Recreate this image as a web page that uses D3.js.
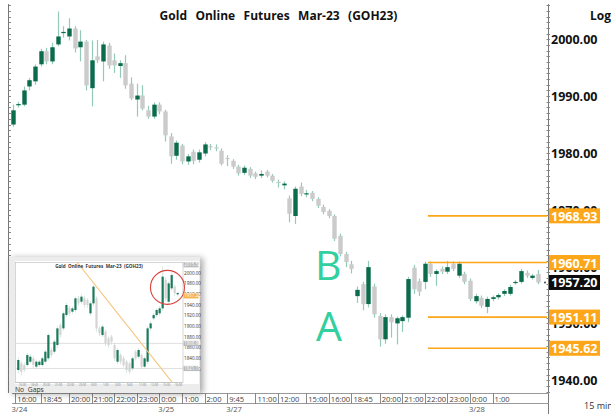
<!DOCTYPE html>
<html><head><meta charset="utf-8">
<script src="https://cdn.jsdelivr.net/npm/d3@7"></script>
<style>
html,body{margin:0;padding:0;background:#fff;overflow:hidden}
svg{display:block;font-family:"Open Sans",sans-serif}
</style>
</head><body>
<svg id="c" width="611" height="414"></svg>
<script>
// ---------- main chart data (15 min candles) ----------
const opens  = [1985.0,1988.4,1988.5,1991.7,1992.6,1995.6,1997.9,1996.1,1999.1,2001.1,2000.5,2001.9,1998.6,1999.6,1991.4,1997.0,1996.1,1998.9,1996.3,1995.3,1995.8,1992.2,1989.4,1990.1,1987.5,1986.4,1988.5,1987.3,1982.9,1979.5,1981.3,1978.5,1980.2,1978.8,1979.9,1981.2,1981.0,1980.4,1979.1,1978.6,1977.6,1976.5,1977.2,1976.4,1976.0,1976.7,1976.0,1974.9,1974.3,1972.0,1968.9,1974.1,1972.7,1973.0,1971.9,1970.5,1969.8,1968.9,1965.4,1962.2,1960.4,1954.8,1956.9,1953.4,1956.5,1951.3,1947.2,1951.1,1950.0,1950.4,1951.0,1959.8,1957.4,1957.3,1960.5,1958.7,1959.6,1959.1,1960.5,1958.4,1958.7,1957.5,1953.9,1954.5,1952.9,1954.3,1954.6,1955.2,1955.2,1957.1,1957.3,1958.9,1958.0,1958.7];
const highs  = [1988.5,1989.0,1991.7,1993.2,1995.6,1998.3,1998.5,1999.4,2004.9,2002.3,2003.7,2002.3,2001.6,1999.9,1999.8,1999.9,1999.6,1999.4,1997.5,1996.3,1997.2,1993.3,1992.2,1991.9,1988.3,1988.9,1988.9,1987.6,1983.5,1982.2,1981.6,1979.8,1980.6,1980.6,1981.9,1981.6,1981.5,1980.8,1979.6,1978.9,1977.9,1977.8,1977.5,1976.7,1976.9,1977.0,1976.3,1975.3,1975.0,1972.5,1974.1,1974.8,1973.5,1973.3,1972.2,1970.9,1970.1,1969.2,1965.8,1962.6,1961.0,1956.5,1957.3,1961.0,1957.0,1951.8,1951.6,1951.6,1951.2,1951.4,1958.2,1960.3,1957.9,1960.9,1960.9,1959.5,1960.0,1961.0,1960.9,1960.9,1959.1,1957.9,1955.2,1954.9,1954.7,1954.9,1955.3,1956.0,1956.8,1957.6,1959.6,1959.3,1958.7,1959.4];
const lows   = [1984.6,1988.0,1988.2,1991.0,1992.0,1995.2,1995.6,1995.6,1998.8,2000.3,1999.8,1997.7,1996.1,1991.0,1988.2,1995.8,1992.6,1994.8,1994.1,1993.2,1991.3,1989.3,1986.4,1987.5,1986.0,1986.0,1986.8,1982.0,1978.1,1978.8,1978.0,1977.9,1978.0,1978.3,1979.4,1980.5,1980.3,1977.8,1977.7,1977.2,1976.0,1976.1,1975.6,1975.4,1975.6,1975.7,1974.8,1973.9,1973.6,1967.8,1967.5,1972.4,1972.2,1971.5,1970.3,1969.2,1968.5,1964.5,1961.8,1959.9,1958.8,1953.6,1952.3,1952.8,1951.0,1945.9,1946.4,1947.5,1946.3,1948.5,1950.2,1955.2,1954.8,1956.0,1958.2,1956.6,1958.7,1958.7,1959.2,1958.0,1956.9,1953.9,1953.5,1952.7,1951.8,1953.9,1954.2,1954.8,1954.9,1956.8,1957.0,1958.0,1957.7,1956.9];
const closes = [1987.5,1988.6,1991.0,1992.8,1995.2,1997.9,1996.1,1998.6,2000.5,2001.3,2001.9,1998.4,1999.6,1991.9,1996.3,1996.3,1999.1,1995.4,1995.4,1995.8,1991.9,1989.6,1990.1,1987.8,1986.4,1988.5,1987.3,1983.1,1979.4,1981.8,1978.5,1979.4,1978.6,1980.1,1981.5,1981.0,1980.8,1978.1,1978.9,1977.6,1976.4,1977.4,1976.0,1975.8,1976.3,1976.0,1975.1,1974.7,1974.6,1969.3,1973.7,1972.8,1972.9,1971.9,1970.7,1969.6,1968.9,1964.9,1962.2,1960.8,1959.6,1955.9,1953.4,1959.9,1951.6,1947.2,1951.1,1950.2,1950.9,1951.1,1957.8,1956.0,1955.6,1960.5,1958.7,1959.2,1959.1,1959.9,1959.6,1960.5,1957.3,1954.3,1954.8,1953.1,1954.3,1954.6,1955.0,1955.7,1956.4,1957.3,1959.2,1958.4,1958.4,1957.2];

const priceTicks = [2000, 1990, 1980, 1970, 1960, 1950, 1940];
const levels = [1968.93, 1960.71, 1951.11, 1945.62];
const lastPrice = 1957.20;
const timeLabels = ["16:00","18:45","20:00","21:00","22:00","23:00","0:00","1:00","2:00","9:45","11:00","12:00","15:00","16:00","18:45","20:00","21:00","22:00","23:00","0:00","1:00"];
const timeIdx    = [0.5,5,10,14,18,22,26,30,34,38,43,47,52,56,60,65,69,73,77,81,85];
const dateLabels = ["3/24","3/25","3/27","3/28"];
const dateIdx    = [0,26,38,81];
const title = "Gold  Online  Futures  Mar-23  (GOH23)";

// ---------- inset (hourly) data ----------
const inOpens  = [1818.1,1830.6,1827.5,1827.5,1833.7,1840.0,1824.4,1827.5,1827.5,1833.7,1840.0,1855.6,1852.5,1865.0,1902.5,1896.2,1921.2,1933.7,1927.5,1930.6,1952.5,1946.2,1952.5,1949.4,1924.4,1943.1,1952.5,1896.2,1883.7,1890.0,1877.5,1880.6,1865.0,1833.7,1846.2,1840.0,1833.7,1830.6,1821.2,1852.5,1843.1,1846.2,1824.4,1833.7,1896.2,1915.0,1921.2,1924.4,1933.7,1986.9,1946.2,1971.2,1974.4,1960.0];
const inCloses = [1836.9,1815.0,1818.1,1846.2,1843.1,1827.5,1833.7,1833.7,1840.0,1852.5,1883.7,1846.2,1871.2,1896.2,1883.7,1924.4,1940.0,1924.4,1933.7,1952.5,1943.1,1955.6,1940.0,1940.0,1943.1,1974.4,1896.2,1886.9,1899.4,1868.1,1865.0,1871.2,1840.0,1855.6,1833.7,1827.5,1818.1,1815.0,1840.0,1840.0,1855.6,1824.4,1840.0,1896.2,1905.6,1921.2,1930.6,1933.7,1993.1,1952.5,1980.6,1996.2,1961.9,1962.5];
const inHighs  = [1842,1835,1832,1850,1848,1845,1838,1837,1843,1856,1887,1860,1875,1900,1906,1928,1944,1938,1937,1956,1957,1960,1957,1953,1947,1977,1956,1900,1903,1894,1881,1884,1869,1859,1850,1844,1837,1834,1844,1856,1859,1850,1844,1900,1910,1925,1934,1938,2012,1992,1985,2001,1978,1965];
const inLows   = [1812,1808,1814,1824,1830,1822,1820,1824,1824,1830,1836,1842,1848,1860,1879,1892,1917,1920,1923,1926,1939,1942,1935,1935,1920,1938,1890,1882,1880,1863,1860,1866,1835,1829,1829,1823,1813,1811,1817,1836,1839,1820,1820,1829,1892,1911,1917,1920,1929,1947,1942,1967,1957,1956];
const inTicks = [2000,1980,1960,1940,1920,1900,1880,1860,1840,1820];
const inLines = [1868, 1821];
const inTrend = [[19.5, 2020.6],[51.1, 1795.6]];
const inTimeLabels = ["16:00","18:45","20:00","21:00","22:00","23:00","0:00","1:00","2:00","9:45","11:00","12:00","15:00","16:00"];

// ---------- colours ----------
const GREEN = "#0b6b4d", GRAY = "#cbcbcb", WICK = "#93cbb7", ORANGE = "#fda619";
const nb = s => s.replace(/ /g, "\u00a0");

const svg = d3.select("#c");
const x = d3.scaleLinear().domain([0, opens.length - 1]).range([12.5, 537.8]);
const y = d3.scaleLinear().domain([1940, 2000]).range([380.2, 39.3]);
const bodyW = 4.4;

// left & right axis lines with minor ticks
const minor = d3.range(1935, 2009, 1);
svg.append("line").attr("x1", 8.5).attr("x2", 8.5).attr("y1", 4).attr("y2", 393).attr("stroke", "#777");
svg.append("g").selectAll("line").data(minor.filter(v => y(v) > 4 && y(v) < 392)).join("line")
  .attr("x1", 8.5).attr("x2", 11).attr("y1", d => Math.round(y(d)) + .5).attr("y2", d => Math.round(y(d)) + .5)
  .attr("stroke", "#888");
svg.append("line").attr("x1", 548.5).attr("x2", 548.5).attr("y1", 4).attr("y2", 414).attr("stroke", "#777");
svg.append("g").selectAll("line").data(minor.filter(v => y(v) > 4 && y(v) < 392)).join("line")
  .attr("x1", 546.5).attr("x2", 550).attr("y1", d => Math.round(y(d)) + .5).attr("y2", d => Math.round(y(d)) + .5)
  .attr("stroke", "#888");

// title & corner labels
svg.append("text").attr("x", 278.5).attr("y", 20).attr("text-anchor", "middle")
  .attr("font-size", 12).attr("font-weight", 700).attr("word-spacing", 1.1).attr("fill", "#111").text(nb(title));
svg.append("text").attr("x", 590).attr("y", 20).attr("font-size", 12).attr("font-weight", 700).attr("fill", "#111").text("Log");
svg.append("text").attr("x", 584).attr("y", 409).attr("font-size", 9).attr("fill", "#333").text("15 min");

// price tick labels
svg.append("g").selectAll("text").data(priceTicks).join("text")
  .attr("x", 551).attr("y", d => y(d) + 5).attr("font-size", 12.5).attr("font-weight", 700).attr("fill", "#111")
  .text(d => d.toFixed(2));

// candles
const idx = d3.range(opens.length);
svg.append("g").selectAll("line").data(idx).join("line")
  .attr("x1", i => Math.round(x(i)) + .5).attr("x2", i => Math.round(x(i)) + .5)
  .attr("y1", i => y(highs[i])).attr("y2", i => y(lows[i]))
  .attr("stroke", WICK).attr("stroke-width", 1.2);
svg.append("g").selectAll("rect").data(idx).join("rect")
  .attr("x", i => Math.round(x(i)) + .5 - bodyW / 2)
  .attr("y", i => y(Math.max(opens[i], closes[i])))
  .attr("width", bodyW)
  .attr("height", i => Math.max(1.2, Math.abs(y(opens[i]) - y(closes[i]))))
  .attr("fill", i => closes[i] >= opens[i] ? GREEN : GRAY);

// level lines + labels
svg.append("g").selectAll("line").data(levels).join("line")
  .attr("x1", 428).attr("x2", 547).attr("y1", d => y(d)).attr("y2", d => y(d))
  .attr("stroke", ORANGE).attr("stroke-width", 1.6);
const lv = svg.append("g").selectAll("g").data(levels).join("g").attr("transform", d => `translate(549,${y(d)})`);
lv.append("rect").attr("x", 0).attr("y", -7.5).attr("width", 51).attr("height", 15).attr("fill", ORANGE);
lv.append("text").attr("x", 2).attr("y", 5).attr("font-size", 12.5).attr("font-weight", 700).attr("fill", "#fff").text(d => d.toFixed(2));

// last price
const lp = svg.append("g").attr("transform", `translate(549,${y(lastPrice)})`);
lp.append("rect").attr("x", 0).attr("y", -7.5).attr("width", 51).attr("height", 15).attr("fill", "#0d0d0d");
lp.append("text").attr("x", 2).attr("y", 5).attr("font-size", 12.5).attr("font-weight", 700).attr("fill", "#fff").text(lastPrice.toFixed(2));
svg.append("circle").attr("cx", 545).attr("cy", y(lastPrice)).attr("r", 1).attr("fill", "#444");

// A / B annotations
svg.append("text").attr("x", 315).attr("y", 280).attr("font-size", 41).attr("fill", "#33cf9e").text("B");
svg.append("text").attr("x", 316).attr("y", 341).attr("font-size", 41).attr("fill", "#33cf9e").text("A");

// time axis row
const ax = svg.append("g");
ax.append("line").attr("x1", 12).attr("x2", 549).attr("y1", 393.5).attr("y2", 393.5).attr("stroke", "#999");
ax.append("line").attr("x1", 12).attr("x2", 549).attr("y1", 403.5).attr("y2", 403.5).attr("stroke", "#999");
ax.selectAll("line.d").data(timeIdx).join("line").attr("class", "d")
  .attr("x1", d => Math.round(x(d)) + .5).attr("x2", d => Math.round(x(d)) + .5)
  .attr("y1", 393).attr("y2", 404).attr("stroke", "#888");
ax.selectAll("text.t").data(timeLabels).join("text").attr("class", "t")
  .attr("x", (d, i) => x(timeIdx[i]) + 2).attr("y", 401.5).attr("font-size", 7.6).attr("fill", "#444").text(d => d);
ax.selectAll("text.dt").data(dateLabels).join("text").attr("class", "dt")
  .attr("x", (d, i) => x(dateIdx[i]) - 1).attr("y", 411.5).attr("font-size", 7.6).attr("fill", "#555").text(d => d);

// ---------- inset ----------
const defs = svg.append("defs");
const f = defs.append("filter").attr("id", "sh").attr("x", "-10%").attr("y", "-10%").attr("width", "130%").attr("height", "130%");
f.append("feDropShadow").attr("dx", 3).attr("dy", 1).attr("stdDeviation", 3).attr("flood-color", "#000").attr("flood-opacity", .35);
defs.append("clipPath").attr("id", "inclip").append("rect").attr("x", 15).attr("y", 262).attr("width", 168).attr("height", 120);

const ins = svg.append("g");
ins.append("rect").attr("x", 9).attr("y", 257).attr("width", 191).attr("height", 136).attr("fill", "#ececec").attr("filter", "url(#sh)");
ins.append("rect").attr("x", 15).attr("y", 261).attr("width", 184).attr("height", 123).attr("fill", "#fff");
ins.append("rect").attr("x", 15.5).attr("y", 262.5).attr("width", 167.5).attr("height", 120).attr("fill", "none").attr("stroke", "#bbb").attr("stroke-width", .6);
const ix = d3.scaleLinear().domain([0, inOpens.length - 1]).range([18.3, 177.7]);
const iy = d3.scaleLinear().domain([1820, 2000]).range([369, 273]);
const ig = ins.append("g").attr("clip-path", "url(#inclip)");
ig.selectAll("line.l").data(inLines).join("line").attr("class", "l")
  .attr("x1", 15).attr("x2", 183).attr("y1", d => iy(d)).attr("y2", d => iy(d)).attr("stroke", "#d8d8d8").attr("stroke-width", .8);
const iidx = d3.range(inOpens.length);
ig.selectAll("line.w").data(iidx).join("line").attr("class", "w")
  .attr("x1", i => ix(i)).attr("x2", i => ix(i)).attr("y1", i => iy(inHighs[i])).attr("y2", i => iy(inLows[i]))
  .attr("stroke", "#c9dfd6").attr("stroke-width", .8);
ig.selectAll("rect.b").data(iidx).join("rect").attr("class", "b")
  .attr("x", i => ix(i) - 1.1).attr("width", 2.2)
  .attr("y", i => iy(Math.max(inOpens[i], inCloses[i])))
  .attr("height", i => Math.max(.8, Math.abs(iy(inOpens[i]) - iy(inCloses[i]))))
  .attr("fill", i => inCloses[i] >= inOpens[i] ? "#1b7a5a" : "#d4d4d4");
ig.append("line").attr("x1", ix(inTrend[0][0])).attr("y1", iy(inTrend[0][1]))
  .attr("x2", ix(inTrend[1][0])).attr("y2", iy(inTrend[1][1])).attr("stroke", "#f7c27a").attr("stroke-width", 1.1);
ins.append("circle").attr("cx", ix(49.6)).attr("cy", iy(1973)).attr("r", 17).attr("fill", "none").attr("stroke", "#d9413c").attr("stroke-width", 1.1);
ins.append("text").attr("x", 99).attr("y", 267.5).attr("text-anchor", "middle").attr("font-size", 4.6).attr("font-weight", 700)
  .attr("fill", "#333").text(nb(title));
ins.selectAll("text.it").data(inTicks).join("text").attr("class", "it")
  .attr("x", 184).attr("y", d => iy(d) + 1.6).attr("font-size", 4.6).attr("fill", "#333").text(d => d.toFixed(2));
// inset tag boxes
const tags = [[2015.5, "#bbb", "2015.52"], [1957.2, "#f6b24a", "1957.20"], [1868, "#bbb", "1868.93"], [1821, "#bbb", "1821.10"]];
const tg = ins.selectAll("g.tag").data(tags).join("g").attr("class", "tag").attr("transform", d => `translate(183.5,${iy(d[0])})`);
tg.append("rect").attr("x", 0).attr("y", -2.6).attr("width", 15).attr("height", 5.2).attr("fill", d => d[1]);
tg.append("text").attr("x", .8).attr("y", 1.6).attr("font-size", 4.4).attr("fill", "#fff").text(d => d[2]);
ins.append("line").attr("x1", 15).attr("x2", 183).attr("y1", 382.5).attr("y2", 382.5).attr("stroke", "#bbb").attr("stroke-width", .6);
ins.selectAll("text.itl").data(inTimeLabels).join("text").attr("class", "itl")
  .attr("x", (d, i) => 19 + i * 12).attr("y", 385.6).attr("font-size", 2.8).attr("fill", "#777").text(d => d);
ins.append("text").attr("x", 15).attr("y", 392).attr("font-size", 6.8).attr("fill", "#333").text(nb("No  Gaps"));
</script>
</body></html>
